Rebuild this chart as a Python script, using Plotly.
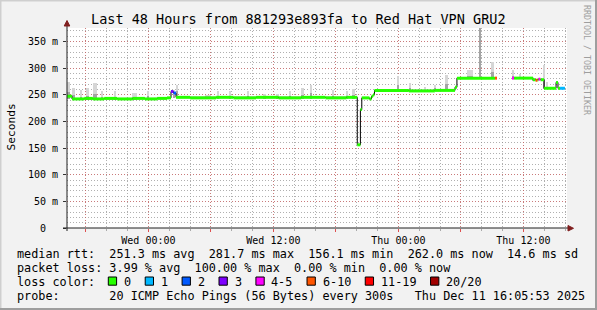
import plotly.graph_objects as go

# ---------------- data ----------------
x_range = ["2025-12-09 16:11", "2025-12-11 16:11"]

# median RTT breakpoints (ms): value holds until next time; None = no data
med_t = [
    "2025-12-09 16:11", "2025-12-09 16:40", "2025-12-09 17:50", "2025-12-09 18:40",
    "2025-12-09 19:45", "2025-12-09 21:00", "2025-12-09 22:30", "2025-12-09 23:40",
    "2025-12-10 00:50", "2025-12-10 01:47", "2025-12-10 02:10", "2025-12-10 02:24",
    "2025-12-10 02:39", "2025-12-10 04:00", "2025-12-10 06:30", "2025-12-10 08:10",
    "2025-12-10 10:20", "2025-12-10 12:30", "2025-12-10 14:40", "2025-12-10 17:00",
    "2025-12-10 19:00", "2025-12-10 20:03", "2025-12-10 20:21", "2025-12-10 20:29",
    "2025-12-10 21:13", "2025-12-10 21:25", "2025-12-10 21:34", "2025-12-10 21:42",
    "2025-12-11 01:00", "2025-12-11 03:30", "2025-12-11 05:26", "2025-12-11 05:37",
    "2025-12-11 09:16", "2025-12-11 09:28", "2025-12-11 10:54", "2025-12-11 11:06",
    "2025-12-11 12:55", "2025-12-11 13:10", "2025-12-11 13:21", "2025-12-11 13:27",
    "2025-12-11 13:38", "2025-12-11 13:59", "2025-12-11 15:08", "2025-12-11 15:19",
    "2025-12-11 15:31", "2025-12-11 15:59",
]
med_v = [
    247, 242, 243, 242,
    243, 242, 243, 242,
    243, 244, 256, 253,
    245, 244, 245, 244,
    245, 244, 245, 244,
    245, 156, 222, 244,
    242, 247, 250, 258,
    257, 258, 264, 281,
    281, None, 281, 281,
    278, 277, 278, 279,
    278, 262, 273, 262,
    262, None,
]
# loss class index per breakpoint (into loss_labels / loss_colors)
med_c = [
    0, 0, 0, 0,
    0, 0, 0, 0,
    0, 0, 3, 2,
    0, 0, 0, 0,
    0, 0, 0, 0,
    0, 0, 0, 0,
    0, 0, 0, 0,
    0, 0, 0, 0,
    5, None, 4, 0,
    0, 5, 0, 4,
    0, 0, 0, 0,
    1, None,
]

loss_labels = ["0", "1", "2", "3", "4-5", "6-10", "11-19", "20/20"]
loss_colors = ["#26ff00", "#00b8ff", "#0059ff", "#7e00ff", "#ff00ff", "#ff5500", "#ff0000", "#a10000"]

# smoke (spread of individual pings): centre time, low, inner top, outer top (ms), width (min)
smoke_t = [
    "2025-12-09 16:20", "2025-12-09 16:48", "2025-12-09 17:32", "2025-12-09 18:09",
    "2025-12-09 18:52", "2025-12-09 19:35", "2025-12-09 20:47", "2025-12-09 22:40",
    "2025-12-09 23:58", "2025-12-10 02:27", "2025-12-10 02:42", "2025-12-10 05:43",
    "2025-12-10 06:41", "2025-12-10 07:50", "2025-12-10 09:34", "2025-12-10 11:11",
    "2025-12-10 12:26", "2025-12-10 13:35", "2025-12-10 14:45", "2025-12-10 15:36",
    "2025-12-10 17:43", "2025-12-10 19:04", "2025-12-10 19:41", "2025-12-10 23:58",
    "2025-12-11 01:07", "2025-12-11 02:33", "2025-12-11 03:31", "2025-12-11 04:37",
    "2025-12-11 06:52", "2025-12-11 07:50", "2025-12-11 09:02", "2025-12-11 11:00",
    "2025-12-11 11:40", "2025-12-11 12:55", "2025-12-11 14:01", "2025-12-11 14:16",
]
smoke_lo = [
    241, 240, 240, 240, 240, 240, 240, 240,
    240, 243, 243, 242, 242, 242, 242, 242,
    242, 242, 242, 242, 242, 242, 242, 256,
    256, 256, 256, 256, 279, 279, 279, 279,
    279, 276, 260, 260,
]
smoke_mid = [
    255, 249, 246, 248, 252, 246, 246, 246,
    247, 250, 256, 245, 247, 247, 247, 246,
    246, 247, 250, 254, 248, 247, 249, 268,
    262, 259, 262, 270, 285, 375, 292, 285,
    283, 280, 280, 265,
]
smoke_hi = [
    274, 263, 259, 262, 272, 256, 256, 254,
    257, 258, 269, 249, 256, 256, 256, 251,
    251, 256, 262, 269, 259, 256, 261, 285,
    272, 264, 269, 287, 297, 375, 312, 297,
    289, 284, 306, 273,
]
smoke_w = [
    17, 17, 12, 12, 23, 12, 6, 29,
    6, 12, 6, 35, 6, 6, 12, 17,
    17, 6, 17, 12, 12, 6, 17, 12,
    12, 12, 12, 17, 35, 6, 17, 6,
    12, 12, 12, 12,
]

x_tickvals = ["2025-12-09 18:00", "2025-12-10 00:00", "2025-12-10 06:00", "2025-12-10 12:00",
              "2025-12-10 18:00", "2025-12-11 00:00", "2025-12-11 06:00", "2025-12-11 12:00"]
x_ticktext = ["", "Wed 00:00", "", "Wed 12:00", "", "Thu 00:00", "", "Thu 12:00"]
y_tickvals = [0, 50, 100, 150, 200, 250, 300, 350]
y_ticktext = ["0\u00a0\u00a0", "50 m", "100 m", "150 m", "200 m", "250 m", "300 m", "350 m"]

title_text = "Last 48 Hours from 881293e893fa to Red Hat VPN GRU2"
y_title = "Seconds"
side_text = "RRDTOOL / TOBI OETIKER"
line_rtt = "median rtt:  251.3 ms avg  281.7 ms max  156.1 ms min  262.0 ms now  14.6 ms sd"
line_loss = "packet loss: 3.99 % avg  100.00 % max  0.00 % min  0.00 % now"
line_color = "loss color:"
line_probe = "probe:       20 ICMP Echo Pings (56 Bytes) every 300s   Thu Dec 11 16:05:53 2025"

# ---------------- layout geometry ----------------
W, H = 597, 310
ML, MR, MT, MB = 67, 30, 28, 82
PW, PH = W - ML - MR, H - MT - MB
MONO = "DejaVu Sans Mono"


def px(x):
    return (x - ML) / PW


def py(y):
    return (H - MB - y) / PH


def nb(s):
    return s.replace(" ", "\u00a0")


fig = go.Figure()

# smoke
fig.add_trace(go.Bar(
    x=smoke_t, base=smoke_lo, y=[h - l for h, l in zip(smoke_hi, smoke_lo)],
    width=[w * 60000 for w in smoke_w], marker=dict(color="#d6d6d6", line=dict(width=0)),
    hoverinfo="skip", showlegend=False))
fig.add_trace(go.Bar(
    x=smoke_t, base=smoke_lo, y=[m - l for m, l in zip(smoke_mid, smoke_lo)],
    width=[w * 60000 for w in smoke_w], marker=dict(color="#a4a4a4", line=dict(width=0)),
    hoverinfo="skip", showlegend=False))

# black stepped median line
bx, by = [], []
for i in range(len(med_t) - 1):
    v = med_v[i]
    if v is None:
        bx.append(None); by.append(None)
        continue
    bx += [med_t[i], med_t[i + 1]]
    by += [v, v]
    if med_v[i + 1] is None:
        bx.append(None); by.append(None)
fig.add_trace(go.Scatter(x=bx, y=by, mode="lines", line=dict(color="#000000", width=1),
                         hoverinfo="skip", showlegend=False, connectgaps=False))

# colored median segments by loss
for k, col in enumerate(loss_colors):
    sx, sy = [], []
    for i in range(len(med_t) - 1):
        if med_v[i] is not None and med_c[i] == k:
            sx += [med_t[i], med_t[i + 1], None]
            sy += [med_v[i], med_v[i], None]
    if sx:
        fig.add_trace(go.Scatter(x=sx, y=sy, mode="lines", line=dict(color=col, width=3),
                                 hoverinfo="skip", showlegend=False, connectgaps=False))

MGRID = "rgba(222,79,79,0.55)"
GRID = "rgba(143,143,143,0.7)"
DASH = "1px,2px"

fig.update_layout(
    width=W, height=H, autosize=False,
    margin=dict(l=ML, r=MR, t=MT, b=MB, pad=0),
    paper_bgcolor="#f2f2f2", plot_bgcolor="#ffffff",
    barmode="overlay", bargap=0,
    font=dict(family=MONO, size=10, color="#000000"),
    showlegend=False,
    xaxis=dict(
        type="date", range=x_range, tickmode="array", tickvals=x_tickvals, ticktext=x_ticktext,
        showgrid=True, gridcolor=MGRID, griddash=DASH, gridwidth=1,
        ticks="outside", ticklen=3, tickcolor="#de4f4f", tickwidth=1,
        tickfont=dict(family=MONO, size=10), zeroline=False, showline=False,
        ticklabelstandoff=0,
        minor=dict(dtick=7200000, tick0="2025-12-10 00:00", showgrid=True, gridcolor=GRID,
                   griddash=DASH, ticks="outside", ticklen=2, tickcolor="#aaaaaa"),
    ),
    yaxis=dict(
        range=[0, 375], tickmode="array", tickvals=y_tickvals, ticktext=y_ticktext,
        showgrid=True, gridcolor=MGRID, griddash=DASH, gridwidth=1,
        ticks="outside", ticklen=3, tickcolor="#333333", tickwidth=1,
        tickfont=dict(family=MONO, size=10), zeroline=False, showline=False,
        ticklabelstandoff=3,
        minor=dict(dtick=10, showgrid=True, gridcolor=GRID, griddash=DASH),
    ),
)

shapes = []
# frame shading
shapes.append(dict(type="rect", xref="paper", yref="paper", x0=px(0), x1=px(W), y0=py(0), y1=py(1.5),
                   fillcolor="#cfcfcf", line=dict(width=0), layer="above"))
shapes.append(dict(type="rect", xref="paper", yref="paper", x0=px(0), x1=px(1.5), y0=py(0), y1=py(H),
                   fillcolor="#cfcfcf", line=dict(width=0), layer="above"))
shapes.append(dict(type="rect", xref="paper", yref="paper", x0=px(0), x1=px(W), y0=py(H - 2), y1=py(H),
                   fillcolor="#9e9e9e", line=dict(width=0), layer="above"))
shapes.append(dict(type="rect", xref="paper", yref="paper", x0=px(W - 2), x1=px(W), y0=py(0), y1=py(H),
                   fillcolor="#9e9e9e", line=dict(width=0), layer="above"))
# axes
shapes.append(dict(type="line", xref="paper", yref="paper", x0=px(63), x1=px(569), y0=0, y1=0,
                   line=dict(color="#1f1f1f", width=1), layer="above"))
shapes.append(dict(type="line", xref="paper", yref="paper", x0=0, x1=0, y0=py(231), y1=py(24),
                   line=dict(color="#1f1f1f", width=1), layer="above"))
# arrows
shapes.append(dict(type="path", xref="paper", yref="paper",
                   path=f"M {px(568)} {py(225.5)} L {px(573.5)} {py(228.3)} L {px(568)} {py(231)} Z",
                   fillcolor="#801f1f", line=dict(color="#801f1f", width=1), layer="above"))
shapes.append(dict(type="path", xref="paper", yref="paper",
                   path=f"M {px(64.2)} {py(26)} L {px(67)} {py(20.5)} L {px(69.8)} {py(26)} Z",
                   fillcolor="#801f1f", line=dict(color="#801f1f", width=1), layer="above"))

annotations = []
annotations.append(dict(text=nb(title_text), x=px(298.5), y=py(19), xref="paper", yref="paper",
                        xanchor="center", yanchor="middle", showarrow=False,
                        font=dict(family=MONO, size=13.5, color="#000000")))
annotations.append(dict(text=y_title, x=px(10.5), y=py(127), xref="paper", yref="paper",
                        xanchor="center", yanchor="middle", showarrow=False, textangle=-90,
                        font=dict(family=MONO, size=11.2, color="#000000")))
annotations.append(dict(text=nb(side_text), x=px(587), y=py(60), xref="paper", yref="paper",
                        xanchor="center", yanchor="middle", showarrow=False, textangle=90,
                        font=dict(family=MONO, size=8.3, color="#9e9e9e")))

LF = 11.8
CW = LF * 0.602
LX = 15
for txt, yy in [(line_rtt, 254.3), (line_loss, 268.3), (line_color, 282.3), (line_probe, 296.2)]:
    annotations.append(dict(text=nb(txt), x=px(LX), y=py(yy), xref="paper", yref="paper",
                            xanchor="left", yanchor="middle", showarrow=False,
                            font=dict(family=MONO, size=LF, color="#000000")))

bxp = 108.3
for lab, col in zip(loss_labels, loss_colors):
    shapes.append(dict(type="rect", xref="paper", yref="paper", x0=px(bxp), x1=px(bxp + 8.3),
                       y0=py(285.2), y1=py(277), fillcolor=col, line=dict(color="#000000", width=1),
                       layer="above"))
    tx = bxp + 14.5
    annotations.append(dict(text=lab, x=px(tx - 1), y=py(282.3), xref="paper", yref="paper",
                            xanchor="left", yanchor="middle", showarrow=False,
                            font=dict(family=MONO, size=LF, color="#000000")))
    bxp = tx + len(lab) * CW + 15.3

fig.update_layout(shapes=shapes, annotations=annotations)

fig.write_html("out.html", config={"displayModeBar": False})
